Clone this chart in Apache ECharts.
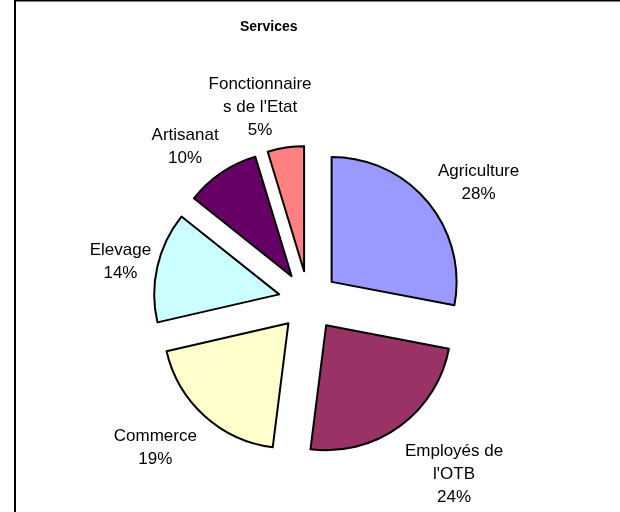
<!DOCTYPE html>
<html><head><meta charset="utf-8">
<script src="https://cdn.jsdelivr.net/npm/echarts@6/dist/echarts.min.js"></script>
<style>html,body{margin:0;padding:0;background:#fff}#c{width:620px;height:512px}</style>
</head><body><div id="c"></div>
<script>
const categories = ['Agriculture', "Employés de l'OTB", 'Commerce', 'Elevage', 'Artisanat', "Fonctionnaires de l'Etat"];
const values = [28, 24, 19.4, 14.3, 9.6, 4.7];
const labelTexts = ['Agriculture', "Employés de\nl'OTB", 'Commerce', 'Elevage', 'Artisanat', "Fonctionnaire\ns de l'Etat"];
const colors = ['#9999FF', '#993366', '#FFFFCC', '#CCFFFF', '#660066', '#FF8080'];
const titleText = 'Services';

const CX = 308.5, CY = 301, R = 125, EXPLODE = 30, LABEL_R = 200;
const labelNudge = [[16, 9], [28, 12], [-19, -2], [7, 5], [-11, 11], [-19, 4]];
const total = values.reduce((a, b) => a + b, 0);
const midAngles = [];
let acc = 0;
values.forEach(v => { midAngles.push((acc + v / 2) / total * 2 * Math.PI); acc += v; });

const FONT = "'Liberation Sans', Arial, sans-serif";
const chart = echarts.init(document.getElementById('c'), null, {renderer: 'canvas'});
chart.setOption({
  animation: false,
  backgroundColor: '#fff',
  title: {
    text: titleText, left: 240, top: 20, padding: 0,
    textStyle: {fontFamily: FONT, fontSize: 14, fontWeight: 'bold', color: '#000'}
  },
  graphic: [{
    type: 'rect', silent: true, z: 100,
    shape: {x: 15, y: 0.5, width: 800, height: 800},
    style: {fill: 'none', stroke: '#000', lineWidth: 2}
  }],
  series: [{
    type: 'pie',
    center: [CX, CY],
    radius: [0, R],
    startAngle: 90,
    clockwise: true,
    selectedMode: 'multiple',
    selectedOffset: EXPLODE,
    emphasis: {disabled: true},
    itemStyle: {borderColor: '#000', borderWidth: 2},
    label: {show: false},
    labelLine: {show: false},
    data: categories.map((name, i) => ({
      name: name, value: values[i], selected: true,
      itemStyle: {color: colors[i]}
    }))
  }, {
    type: 'pie',
    silent: true,
    center: [CX, CY],
    radius: [0, R],
    startAngle: 90,
    clockwise: true,
    avoidLabelOverlap: false,
    emphasis: {disabled: true},
    itemStyle: {color: 'rgba(0,0,0,0)', borderWidth: 0},
    label: {
      show: true, position: 'outside',
      fontFamily: FONT, fontSize: 17, lineHeight: 23, color: '#000',
      formatter: p => labelTexts[p.dataIndex] + '\n' + Math.round(p.percent) + '%'
    },
    labelLine: {show: false},
    labelLayout: function (params) {
      const i = params.dataIndex;
      const a = midAngles[i];
      return {
        x: CX + LABEL_R * Math.sin(a) + labelNudge[i][0],
        y: CY - LABEL_R * Math.cos(a) + labelNudge[i][1],
        align: 'center', verticalAlign: 'middle'
      };
    },
    data: categories.map((name, i) => ({name: name, value: values[i]}))
  }]
});
</script></body></html>
